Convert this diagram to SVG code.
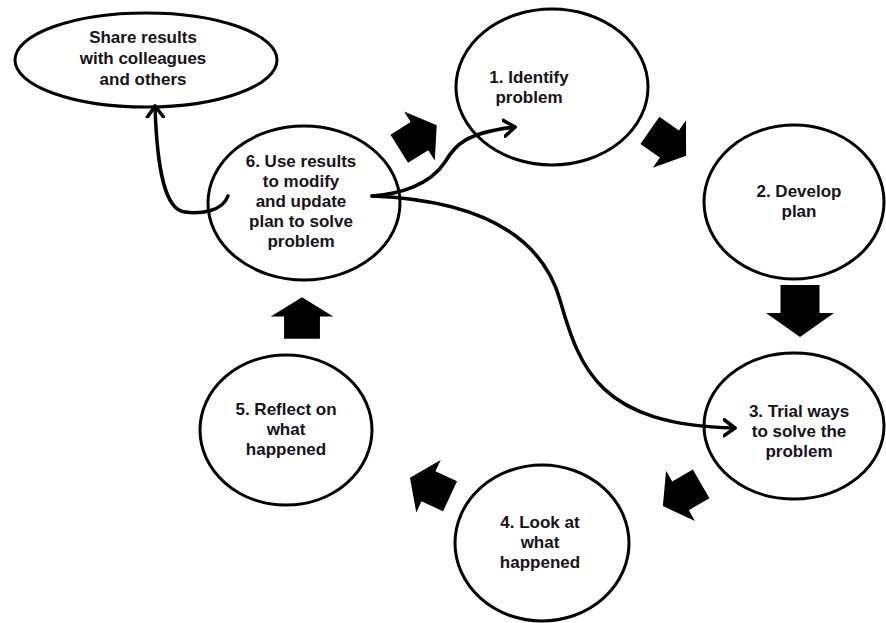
<svg xmlns="http://www.w3.org/2000/svg" width="886" height="623" viewBox="0 0 886 623">
<style>
.n{fill:#fff;stroke:#000;stroke-width:3}
.t{font-family:"Liberation Sans","Open Sans",sans-serif;font-weight:bold;font-size:17px;fill:#1a1020;text-anchor:middle}
.c{fill:none;stroke:#000;stroke-width:3.5;stroke-linecap:round}
.b{fill:#000}
</style>
<defs>
<marker id="ah" viewBox="-12 -10 14 20" refX="0" refY="0" markerWidth="14" markerHeight="20" markerUnits="userSpaceOnUse" orient="auto">
<path d="M-11,-8 L0,0 L-11,8" fill="none" stroke="#000" stroke-width="3.5" stroke-linecap="round" stroke-linejoin="round"/>
</marker>
<path id="blk" d="M-26,-19.5 L2,-19.5 L2,-34 L26,0 L2,34 L2,19.5 L-26,19.5 Z"/>
</defs>
<rect width="886" height="623" fill="#fff"/>
<g id="share"><ellipse class="n" cx="146" cy="60" rx="131" ry="47"/>
<text class="t" x="143" y="43">Share results</text><text class="t" x="143" y="64">with colleagues</text><text class="t" x="143" y="85">and others</text></g>
<g id="n1"><ellipse class="n" cx="552" cy="87" rx="96" ry="78"/>
<text class="t" x="529" y="83">1. Identify</text><text class="t" x="529" y="103">problem</text></g>
<g id="n2"><ellipse class="n" cx="794" cy="202" rx="90" ry="77"/>
<text class="t" x="799" y="197">2. Develop</text><text class="t" x="799" y="217">plan</text></g>
<g id="n3"><ellipse class="n" cx="794" cy="426" rx="90" ry="73"/>
<text class="t" x="799" y="417">3. Trial ways</text><text class="t" x="799" y="437">to solve the</text><text class="t" x="799" y="457">problem</text></g>
<g id="n4"><ellipse class="n" cx="542" cy="543" rx="87" ry="78"/>
<text class="t" x="540" y="528">4. Look at</text><text class="t" x="540" y="548">what</text><text class="t" x="540" y="568">happened</text></g>
<g id="n5"><ellipse class="n" cx="286" cy="430" rx="86" ry="75"/>
<text class="t" x="286" y="415">5. Reflect on</text><text class="t" x="286" y="435">what</text><text class="t" x="286" y="455">happened</text></g>
<g id="n6"><ellipse class="n" cx="304" cy="203" rx="96" ry="77"/>
<text class="t" x="301" y="167">6. Use results</text><text class="t" x="301" y="187">to modify</text><text class="t" x="301" y="207">and update</text><text class="t" x="301" y="227">plan to solve</text><text class="t" x="301" y="247">problem</text></g>
<g id="connectors">
<path class="c" d="M228,196 C222,212 200,214 185,212 C165,210 157,170 155,106" marker-end="url(#ah)"/>
<path class="c" d="M372,196 C400,194 430,185 445,162 C455,145 465,133 515,127" marker-end="url(#ah)"/>
<path class="c" d="M372,196 C470,200 540,230 560,300 C580,370 600,425 735,428" marker-end="url(#ah)"/>
<use href="#blk" class="b" transform="translate(418,137) rotate(-32) scale(0.85)"/>
<use href="#blk" class="b" transform="translate(668,143) rotate(35) scale(0.85)"/>
<use href="#blk" class="b" transform="translate(800,311) rotate(90)"/>
<use href="#blk" class="b" transform="translate(682,495) rotate(150) scale(0.85)"/>
<use href="#blk" class="b" transform="translate(430,487) rotate(205) scale(0.85)"/>
<use href="#blk" class="b" transform="translate(302,318) rotate(-90) scale(0.8,0.92)"/>
</g>
</svg>
